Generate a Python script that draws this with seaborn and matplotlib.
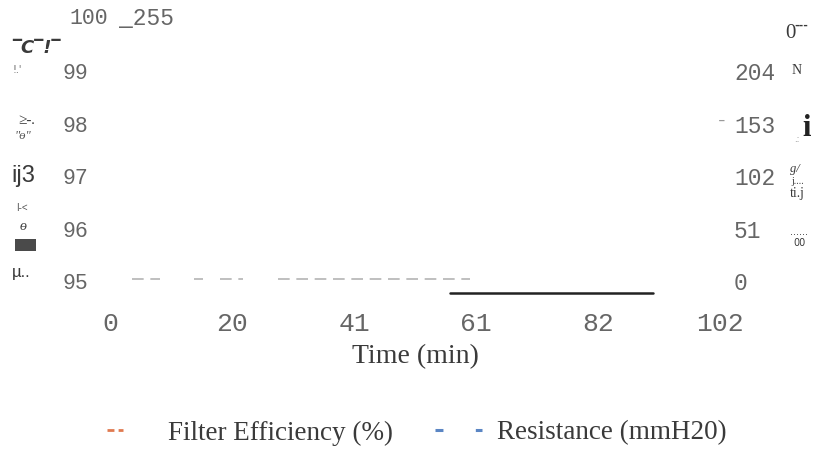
import numpy as np
import pandas as pd
import matplotlib
matplotlib.use("Agg")
import matplotlib.pyplot as plt
from matplotlib.lines import Line2D
from matplotlib.patches import Rectangle
import seaborn as sns

# ---------------- data ----------------
x_tick_values = [0, 20.4, 40.8, 61.2, 81.6, 102]
x_tick_labels = ["0", "20", "41", "61", "82", "102"]
left_ticks = [95, 96, 97, 98, 99, 100]
right_ticks = [0, 51, 102, 153, 204]

# faint dashed trace near the baseline (segments with gaps)
trace_time = [3.7, 8.4, 14.0, 15.5, 18.4, 22.2, 28.1, 60.2]
trace_value = [95.04, 95.04, 95.04, 95.04, 95.04, 95.04, 95.04, 95.04]
trace_segment = [1, 1, 2, 2, 3, 3, 4, 4]

# solid dark segment below the baseline
solid_time = [56.9, 90.8]
solid_value = [94.77, 94.77]

legend_labels = ["Filter Efficiency (%)", "Resistance (mmH20)"]

# ---------------- figure ----------------
sns.set_theme(style="white")
plt.rcParams["font.family"] = ["DejaVu Sans"]

W, H = 817, 449
fig = plt.figure(figsize=(W / 100, H / 100), dpi=100)
fig.patch.set_facecolor("white")

def fx(px):
    return px / W

def fy(py):
    return 1 - py / H

ax = fig.add_axes([fx(110), fy(302), 610 / W, 288.2 / H])
ax.set_facecolor("white")

df_trace = pd.DataFrame({"time": trace_time, "value": trace_value, "seg": trace_segment})
sns.lineplot(data=df_trace, x="time", y="value", units="seg", estimator=None,
             color="#b4b4b4", linewidth=1.2, ax=ax)
for ln in ax.lines:
    ln.set_dashes((7, 4))

df_solid = pd.DataFrame({"time": solid_time, "value": solid_value})
sns.lineplot(data=df_solid, x="time", y="value", color="#222222", linewidth=1.8, ax=ax)

ax.set_xlim(0, 102)
ax.set_ylim(94.6, 100.1)
for s in ax.spines.values():
    s.set_visible(False)

mono = "Liberation Mono"
tick_color = "#666666"
ax.set_xticks(x_tick_values)
ax.set_xticklabels(x_tick_labels, fontfamily=mono, fontsize=19, color=tick_color)
ax.set_yticks(left_ticks)
# the "100" label sits offset in the scan; it is drawn separately below
ax.set_yticklabels([str(v) if v != 100 else "" for v in left_ticks],
                   fontfamily=mono, fontsize=15.5, color=tick_color)
ax.tick_params(axis="x", length=0, pad=7)
ax.tick_params(axis="y", length=0, pad=16)

ax.set_xlabel("Time (min)", fontfamily="Liberation Serif", fontsize=20,
              color="#3a3a3a", labelpad=6)
ax.set_ylabel("")

ax2 = ax.twinx()
ax2.set_ylim((94.6 - 95) * 51, (100.1 - 95) * 51)
ax2.set_yticks(right_ticks)
ax2.set_yticklabels([str(v) for v in right_ticks], fontfamily=mono, fontsize=16.5, color=tick_color)
ax2.tick_params(axis="y", length=0, pad=10)
for s in ax2.spines.values():
    s.set_visible(False)
ax2.grid(False)
ax.grid(False)

# top-left labels (100 and 255) as they sit in the scan
fig.text(fx(108), fy(19), "100", fontfamily=mono, fontsize=15.5, color=tick_color,
         ha="right", va="center")
fig.text(fx(119), fy(18), "_255", fontfamily=mono, fontsize=16.5, color=tick_color,
         ha="left", va="center")
fig.text(fx(728), fy(121), "-", fontfamily=mono, fontsize=14, color="#999999",
         ha="right", va="center")

# ---------------- legend ----------------
h1 = Line2D([], [], color="#e07a50", linewidth=2.0, linestyle=(0, (2.5, 1.5)))
h2 = Line2D([], [], color="#5b86c4", linewidth=2.2, linestyle=(0, (2.6, 10.6)))
leg_font = {"family": "Liberation Serif", "size": 19.5}
lg1 = fig.legend([h1], [legend_labels[0]], loc="center left",
                 bbox_to_anchor=(fx(107), fy(433)), frameon=False, prop=leg_font,
                 handlelength=0.6, handletextpad=1.65, borderpad=0, borderaxespad=0)
lg2 = fig.legend([h2], [legend_labels[1]], loc="center left",
                 bbox_to_anchor=(fx(435), fy(433)), frameon=False, prop=leg_font,
                 handlelength=1.75, handletextpad=0.55, borderpad=0, borderaxespad=0)
for lg in (lg1, lg2):
    for t in lg.get_texts():
        t.set_color("#3a3a3a")

# ---------------- scan remnants of rotated axis titles ----------------
dark = "#3a3a3a"
fig.text(fx(12), fy(48), "\u203eC\u203e!\u203e", fontfamily="DejaVu Sans", fontsize=13,
         fontweight="bold", fontstyle="italic", color=dark, va="center")
fig.text(fx(13), fy(70), "!.'", fontfamily="DejaVu Sans", fontsize=7, color="#666666", va="center")
fig.text(fx(18), fy(120), "\u2265-.", fontfamily="Liberation Serif", fontsize=11,
         fontstyle="italic", color=dark, va="center")
fig.text(fx(14), fy(136), "\"\u0275\"", fontfamily="Liberation Serif", fontsize=9,
         fontstyle="italic", color="#555555", va="center")
fig.text(fx(11), fy(176), "ij3", fontfamily="Liberation Sans", fontsize=17, color=dark, va="center")
fig.text(fx(16), fy(208), "I-<", fontfamily="Liberation Sans", fontsize=7, color="#555555", va="center")
fig.text(fx(20), fy(227), "\u0275", fontfamily="Liberation Serif", fontsize=10,
         fontstyle="italic", color=dark, va="center")
fig.add_artist(Rectangle((fx(15), fy(251)), 21 / W, 12 / H, transform=fig.transFigure,
                         facecolor="#4a4a4a", edgecolor="none"))
fig.text(fx(12), fy(272), "\u00b5..", fontfamily="Liberation Sans", fontsize=12, color=dark, va="center")

fig.text(fx(785), fy(33), "0", fontfamily="Liberation Serif", fontsize=15,
         color=dark, va="center")
fig.text(fx(794), fy(26), "---", fontfamily="DejaVu Sans", fontsize=8,
         fontweight="bold", color=dark, va="center")
fig.text(fx(792), fy(71), "N", fontfamily="Liberation Serif", fontsize=10, color=dark, va="center")
fig.text(fx(802), fy(128), "i", fontfamily="Liberation Serif", fontsize=22,
         fontweight="bold", color="#222222", va="center")
fig.text(fx(794), fy(140), ".:", fontfamily="DejaVu Sans", fontsize=6, color="#777777", va="center")
fig.text(fx(790), fy(169), "g/", fontfamily="Liberation Serif", fontsize=9,
         fontstyle="italic", color=dark, va="center")
fig.text(fx(791), fy(182), "j....", fontfamily="Liberation Serif", fontsize=7, color=dark, va="center")
fig.text(fx(790), fy(194), "ti.j", fontfamily="Liberation Serif", fontsize=10, color=dark, va="center")
fig.text(fx(790), fy(232), "......", fontfamily="DejaVu Sans", fontsize=7, color=dark, va="center")
fig.text(fx(793), fy(243), "00", fontfamily="DejaVu Sans", fontsize=7, color=dark, va="center")

fig.savefig("out.png", dpi=100, facecolor="white")
